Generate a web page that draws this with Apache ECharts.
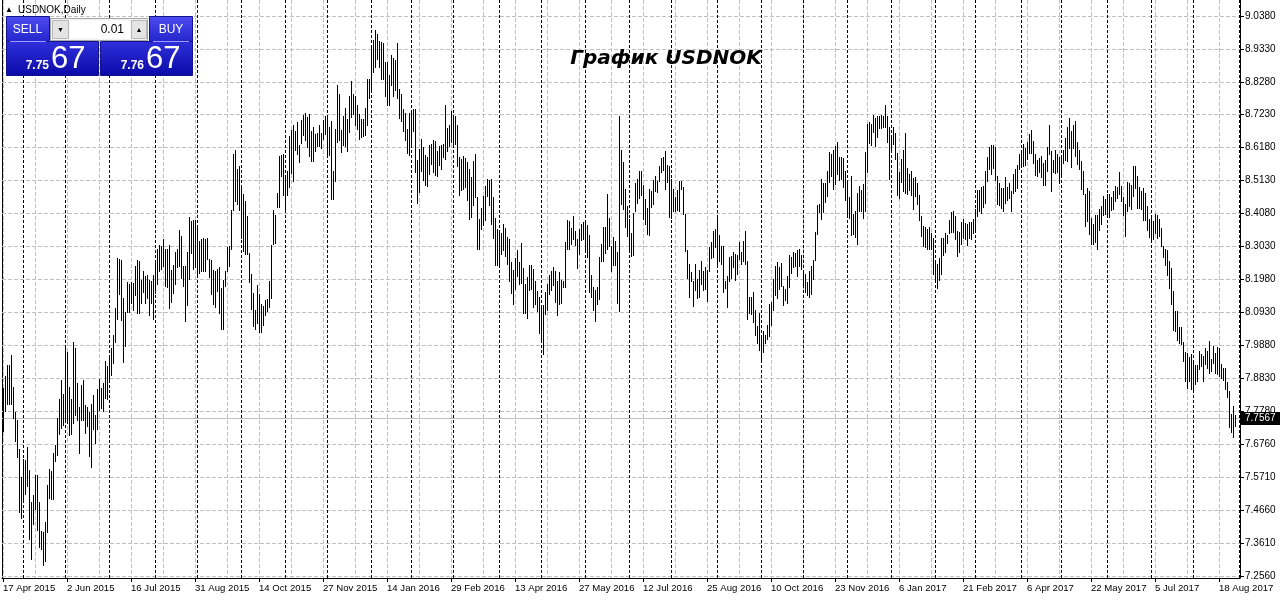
<!DOCTYPE html>
<html><head><meta charset="utf-8">
<script src="https://cdn.jsdelivr.net/npm/echarts@6/dist/echarts.min.js"></script>
<style>html,body{margin:0;padding:0;background:#fff;overflow:hidden}#c{width:1280px;height:600px}</style>
</head><body><div id="c"></div>
<script>
// ---- data: daily high / low of USDNOK ----
const highs = [
7.855,7.894,7.926,7.926,7.958,7.859,7.778,7.754,7.661,7.570,
7.629,7.624,7.668,7.592,7.491,7.513,7.578,7.576,7.491,7.398,
7.396,7.428,7.547,7.597,7.589,7.648,7.674,7.760,7.818,7.880,
7.834,7.986,7.968,7.859,7.818,8.002,7.981,7.871,7.793,7.864,
7.881,7.801,7.793,7.778,7.802,7.833,7.767,7.852,7.884,7.854,
7.871,7.940,7.924,7.952,7.981,8.023,8.109,8.267,8.265,8.260,
8.142,8.095,8.191,8.186,8.193,8.188,8.244,8.260,8.258,8.199,
8.228,8.212,8.214,8.199,8.196,8.214,8.260,8.297,8.308,8.305,
8.329,8.295,8.297,8.308,8.231,8.246,8.286,8.295,8.357,8.339,
8.244,8.242,8.286,8.399,8.387,8.390,8.390,8.373,8.323,8.327,
8.331,8.329,8.332,8.265,8.260,8.231,8.225,8.233,8.239,8.172,
8.198,8.225,8.302,8.305,
8.420,8.600,8.610,8.550,8.560,8.500,8.470,8.450,8.400,
8.285,8.218,8.155,8.102,8.181,8.152,8.123,8.114,8.134,8.137,
8.194,8.308,8.420,8.404,8.476,8.591,8.595,8.598,8.526,8.544,
8.656,8.676,8.690,8.671,8.701,8.626,8.708,8.722,8.730,8.717,
8.727,8.671,8.685,8.663,8.666,8.692,8.667,8.706,8.720,8.717,
8.685,8.704,8.544,8.677,8.819,8.789,8.674,8.720,8.745,8.711,
8.785,8.830,8.791,8.783,8.754,8.727,8.709,8.709,8.745,8.836,
8.836,8.947,8.963,8.992,8.982,8.960,8.955,8.953,8.891,8.891,
8.851,8.915,8.904,8.897,8.953,8.807,8.791,8.743,8.730,8.679,
8.730,8.735,8.743,8.741,8.579,8.614,8.648,8.621,8.595,8.589,
8.629,8.632,8.642,8.639,8.607,8.624,8.626,8.632,8.756,8.682,
8.692,8.735,8.720,8.720,8.690,8.589,8.584,8.592,8.586,8.573,
8.552,8.526,8.576,8.600,8.462,8.391,8.427,8.465,8.497,8.518,
8.515,8.518,8.462,8.395,8.359,
8.355,8.346,8.376,8.363,8.336,8.328,8.254,8.230,8.268,8.293,
8.254,8.316,8.236,8.185,8.206,8.247,8.247,8.233,8.194,8.164,
8.143,8.119,8.119,8.159,8.185,8.215,8.228,8.238,8.225,8.194,
8.222,8.198,8.194,8.318,8.389,8.387,8.363,8.403,8.355,8.328,
8.360,8.376,8.384,8.381,8.374,8.342,8.215,8.175,8.166,8.175,
8.272,8.312,8.365,8.365,8.471,8.395,8.307,8.334,8.323,8.286,
8.721,8.611,8.572,8.487,8.434,8.392,8.346,8.410,8.508,8.519,
8.546,8.546,8.501,8.455,8.427,8.487,8.482,8.516,8.530,8.512,
8.562,8.586,8.588,8.607,8.565,8.562,8.519,8.487,8.463,8.484,
8.514,8.514,8.493,8.408,8.293,8.249,8.222,8.196,8.249,8.201,
8.230,8.257,8.228,8.238,8.230,8.302,8.318,8.353,8.360,8.397,
8.342,8.307,8.307,8.194,8.212,8.272,8.275,8.286,8.281,8.278,
8.318,8.286,8.323,8.355,8.259,
8.143,8.143,8.159,8.101,8.053,8.093,8.013,8.037,8.023,8.055,
8.122,8.127,8.201,8.242,8.254,8.239,8.252,8.178,8.170,8.212,
8.276,8.270,8.286,8.284,8.292,8.295,8.278,8.223,8.218,8.191,
8.225,8.244,8.263,8.350,8.437,8.440,8.520,8.507,8.507,8.546,
8.606,8.599,8.610,8.625,8.636,8.590,8.588,8.585,8.546,8.517,
8.461,8.530,8.408,8.419,8.475,8.498,8.485,8.503,8.604,8.694,
8.702,8.694,8.723,8.712,8.719,8.719,8.723,8.719,8.755,8.719,
8.684,8.659,8.684,8.666,8.602,8.543,8.583,8.610,8.666,8.553,
8.535,8.546,8.522,8.525,8.507,8.467,8.401,8.369,8.366,8.360,
8.366,8.348,8.331,8.263,8.249,8.267,8.331,8.331,8.348,8.342,
8.390,8.414,8.416,8.403,8.355,8.352,8.384,8.392,8.380,8.376,
8.382,8.382,8.392,8.424,8.485,8.485,8.493,8.498,8.546,8.588,
8.620,8.628,8.628,8.620,8.530,
8.508,8.490,8.492,8.526,8.494,8.508,8.481,8.534,8.550,8.564,
8.600,8.603,8.630,8.617,8.638,8.664,8.674,8.640,8.600,8.579,
8.587,8.593,8.571,8.579,8.621,8.691,8.608,8.579,8.611,8.600,
8.589,8.597,8.611,8.651,8.685,8.715,8.672,8.691,8.704,8.638,
8.611,8.575,8.545,8.473,8.492,8.481,8.394,8.375,8.405,8.405,
8.423,8.434,8.466,8.455,8.471,8.473,8.462,8.481,8.497,8.494,
8.540,8.497,8.462,8.441,8.511,8.508,8.500,8.561,8.561,8.529,
8.494,8.481,8.490,8.476,8.434,8.391,8.394,8.386,8.407,8.405,
8.391,8.362,8.306,8.296,8.292,8.259,8.237,8.163,8.100,8.098,
8.047,8.047,8.002,7.970,7.967,7.953,7.962,7.943,7.928,7.928,
7.972,7.962,7.957,7.983,7.972,8.004,7.946,7.988,7.967,7.985,
7.983,7.930,7.919,7.917,7.872,7.845,7.771,7.797,7.769
];
const lows = [
7.719,7.780,7.804,7.802,7.802,7.758,7.684,7.634,7.460,7.441,
7.491,7.518,7.542,7.375,7.311,7.422,7.470,7.401,7.348,7.343,
7.290,7.304,7.396,7.504,7.502,7.502,7.622,7.640,7.707,7.727,
7.735,7.756,7.743,7.706,7.707,7.743,7.767,7.752,7.647,7.754,
7.752,7.712,7.733,7.637,7.602,7.725,7.679,7.725,7.785,7.790,
7.780,7.822,7.820,7.873,7.896,7.933,8.002,8.074,8.152,8.072,
7.936,7.989,8.095,8.095,8.125,8.104,8.151,8.093,8.093,8.125,
8.161,8.125,8.140,8.085,8.125,8.074,8.156,8.186,8.228,8.233,
8.242,8.180,8.175,8.108,8.127,8.157,8.186,8.239,8.244,8.204,
8.178,8.069,8.117,8.202,8.284,8.233,8.239,8.214,8.220,8.228,
8.228,8.228,8.265,8.207,8.154,8.122,8.111,8.164,8.093,8.042,
8.042,8.180,8.225,8.244,
8.295,8.420,8.450,8.440,8.420,8.330,8.290,8.280,8.280,
8.190,8.105,8.052,8.041,8.061,8.033,8.033,8.056,8.086,8.099,
8.112,8.141,8.314,8.317,8.430,8.430,8.529,8.467,8.425,8.467,
8.494,8.538,8.513,8.611,8.600,8.573,8.635,8.658,8.645,8.621,
8.592,8.575,8.575,8.607,8.624,8.624,8.618,8.648,8.664,8.597,
8.595,8.457,8.457,8.513,8.637,8.642,8.605,8.626,8.624,8.607,
8.669,8.717,8.727,8.692,8.679,8.648,8.653,8.656,8.658,8.692,
8.777,8.807,8.860,8.876,8.900,8.876,8.836,8.838,8.785,8.754,
8.756,8.817,8.785,8.801,8.777,8.713,8.703,8.671,8.645,8.603,
8.595,8.621,8.671,8.540,8.444,8.478,8.544,8.515,8.499,8.496,
8.536,8.568,8.542,8.533,8.529,8.563,8.552,8.589,8.584,8.607,
8.624,8.637,8.632,8.632,8.561,8.467,8.483,8.488,8.494,8.452,
8.393,8.399,8.436,8.462,8.298,8.298,8.359,8.372,8.388,8.465,
8.436,8.377,8.330,8.247,8.247,
8.244,8.281,8.293,8.275,8.249,8.196,8.156,8.122,8.169,8.212,
8.185,8.187,8.092,8.092,8.076,8.166,8.168,8.111,8.122,8.098,
8.028,8.003,7.963,8.090,8.103,8.153,8.166,8.183,8.127,8.088,
8.122,8.124,8.175,8.175,8.297,8.297,8.312,8.328,8.310,8.236,
8.281,8.325,8.328,8.286,8.272,8.159,8.143,8.103,8.069,8.122,
8.137,8.257,8.259,8.283,8.297,8.307,8.226,8.247,8.247,8.124,
8.098,8.440,8.424,8.368,8.339,8.297,8.275,8.278,8.416,8.442,
8.459,8.469,8.392,8.376,8.344,8.342,8.431,8.440,8.480,8.477,
8.512,8.540,8.548,8.487,8.509,8.397,8.395,8.418,8.418,8.420,
8.416,8.487,8.408,8.291,8.204,8.145,8.194,8.116,8.166,8.141,
8.143,8.185,8.166,8.169,8.132,8.228,8.268,8.270,8.304,8.244,
8.259,8.249,8.159,8.173,8.111,8.196,8.204,8.238,8.198,8.217,
8.265,8.249,8.259,8.249,8.074,
8.093,8.090,8.064,8.023,7.998,7.974,7.942,7.968,7.998,8.009,
8.021,8.055,8.101,8.149,8.140,8.168,8.180,8.119,8.133,8.125,
8.175,8.221,8.239,8.244,8.212,8.244,8.233,8.175,8.159,8.149,
8.143,8.154,8.201,8.263,8.345,8.414,8.392,8.414,8.445,8.466,
8.511,8.530,8.488,8.504,8.535,8.517,8.519,8.493,8.454,8.408,
8.394,8.341,8.345,8.334,8.313,8.419,8.416,8.394,8.419,8.543,
8.634,8.626,8.668,8.623,8.652,8.681,8.681,8.684,8.684,8.636,
8.519,8.615,8.631,8.583,8.469,8.458,8.509,8.482,8.475,8.472,
8.485,8.469,8.424,8.464,8.440,8.390,8.337,8.307,8.302,8.295,
8.295,8.295,8.217,8.193,8.172,8.199,8.217,8.278,8.286,8.316,
8.348,8.352,8.350,8.329,8.274,8.286,8.313,8.331,8.327,8.310,
8.331,8.327,8.348,8.355,8.401,8.416,8.411,8.429,8.443,8.514,
8.551,8.535,8.553,8.517,8.440,
8.437,8.426,8.418,8.444,8.452,8.458,8.418,8.476,8.481,8.490,
8.550,8.566,8.561,8.564,8.582,8.603,8.603,8.571,8.532,8.529,
8.540,8.526,8.500,8.500,8.545,8.600,8.481,8.540,8.537,8.540,
8.508,8.529,8.571,8.579,8.575,8.619,8.558,8.619,8.593,8.568,
8.550,8.487,8.471,8.370,8.386,8.344,8.314,8.314,8.320,8.296,
8.356,8.375,8.405,8.407,8.399,8.397,8.420,8.423,8.450,8.458,
8.473,8.450,8.405,8.338,8.416,8.434,8.423,8.465,8.490,8.426,
8.426,8.423,8.388,8.388,8.356,8.335,8.328,8.328,8.346,8.333,
8.338,8.306,8.271,8.246,8.214,8.174,8.121,8.038,8.036,8.006,
7.999,7.994,7.939,7.877,7.854,7.875,7.851,7.851,7.866,7.875,
7.914,7.925,7.877,7.930,7.919,7.903,7.907,7.935,7.903,7.898,
7.893,7.887,7.879,7.851,7.826,7.729,7.713,7.699,7.734
];
const yTicks = [9.038,8.933,8.828,8.723,8.618,8.513,8.408,8.303,8.198,8.093,7.988,7.883,7.778,7.676,7.571,7.466,7.361,7.256];
const bidPrice = 7.7567;
const symbolText = 'USDNOK,Daily';
const titleText = 'График USDNOK';
const sellQuote = ['7.75', '67'];
const buyQuote = ['7.76', '67'];
const lotText = '0.01';
const monthNames = ['Jan','Feb','Mar','Apr','May','Jun','Jul','Aug','Sep','Oct','Nov','Dec'];

// ---- trading-day categories (weekdays, no Christmas / New Year) ----
const nCategories = 619;
const categories = [], catMonth = [];
(function(){
  const d = new Date(Date.UTC(2015, 3, 17));
  while (categories.length < nCategories) {
    const wd = d.getUTCDay(), m = d.getUTCMonth(), day = d.getUTCDate();
    const hol = (m === 11 && day === 25) || (m === 0 && day === 1);
    if (wd !== 0 && wd !== 6 && !hol) {
      categories.push(day + ' ' + monthNames[m] + ' ' + d.getUTCFullYear());
      catMonth.push(m);
    }
    d.setUTCDate(day + 1);
  }
})();
const separators = [];
for (let i = 1; i < nCategories; i++) if (catMonth[i] !== catMonth[i-1]) separators.push(i);
const gridIdx = [];
for (let i = 0; i < nCategories; i += 16) gridIdx.push(i);

const step = 0.105;
const yMax = yTicks[0] + step * 16 / 33;
const yMin = yTicks[yTicks.length - 1] - step * 2 / 33;
const FONT = '"Liberation Sans", Arial, sans-serif';

const chart = echarts.init(document.getElementById('c'), null, {renderer: 'canvas'});

function px(v) { return Math.floor(v + 0.01); }

function vLineRenderer(color, dash) {
  return function (params, api) {
    const cs = params.coordSys;
    const x = px(api.coord([api.value(0), yMin])[0]) + 0.5;
    return {type: 'line', silent: true,
      shape: {x1: x, y1: cs.y, x2: x, y2: cs.y + cs.height},
      style: {stroke: color, lineWidth: 1, lineDash: dash}};
  };
}

const option = {
  animation: false,
  backgroundColor: '#fff',
  grid: {left: 2, right: 40, top: 0, bottom: 22},
  xAxis: {
    type: 'category', data: categories, boundaryGap: true,
    axisLine: {show: true, lineStyle: {color: '#000', width: 1}},
    axisTick: {show: true, alignWithLabel: true, length: 4, interval: (i) => i % 32 === 0, lineStyle: {color: '#000'}},
    axisLabel: {show: true, interval: (i) => i % 32 === 0, align: 'left', margin: 5, color: '#000', fontSize: 9.6, fontFamily: FONT},
    splitLine: {show: false}
  },
  yAxis: [
    {type: 'value', position: 'right', min: yMin, max: yMax, scale: true,
     axisLine: {show: true, lineStyle: {color: '#000'}}, axisTick: {show: false}, axisLabel: {show: false}, splitLine: {show: false}},
    {type: 'value', position: 'left', min: yMin, max: yMax, scale: true,
     axisLine: {show: true, lineStyle: {color: '#000'}}, axisTick: {show: false}, axisLabel: {show: false}, splitLine: {show: false}}
  ],
  series: [
    {type: 'custom', name: 'vgrid', z: 1, silent: true, data: gridIdx.map(i => [i, yMin]),
     encode: {x: 0, y: 1}, renderItem: vLineRenderer('#c0c0c0', [4, 2])},
    {type: 'custom', name: 'hgrid', z: 1, silent: true, data: yTicks.map(v => [0, v]),
     encode: {x: 0, y: 1},
     renderItem: function (params, api) {
       const cs = params.coordSys;
       const v = api.value(1);
       const y = px(api.coord([0, v])[1]) + 0.5;
       const r = cs.x + cs.width;
       return {type: 'group', children: [
         {type: 'line', shape: {x1: cs.x, y1: y, x2: r, y2: y}, style: {stroke: '#c0c0c0', lineWidth: 1, lineDash: [4, 2]}},
         {type: 'line', shape: {x1: r, y1: y, x2: r + 4, y2: y}, style: {stroke: '#000', lineWidth: 1}},
         {type: 'text', style: {text: v.toFixed(4), x: r + 5, y: y, align: 'left', verticalAlign: 'middle', fill: '#000', font: '10px ' + FONT}}
       ]};
     }},
    {type: 'custom', name: 'separators', z: 2, silent: true, data: separators.map(i => [i, yMin]),
     encode: {x: 0, y: 1}, renderItem: vLineRenderer('#000', [3, 2])},
    {type: 'custom', name: 'bidline', z: 2, silent: true, data: [[0, bidPrice]],
     encode: {x: 0, y: 1},
     renderItem: function (params, api) {
       const cs = params.coordSys;
       const y = px(api.coord([0, api.value(1)])[1]) + 0.5;
       return {type: 'line', shape: {x1: cs.x, y1: y, x2: cs.x + cs.width, y2: y}, style: {stroke: '#c0c0c0', lineWidth: 1}};
     }},
    {type: 'custom', name: 'USDNOK', z: 3, silent: true,
     data: highs.map((h, i) => [i, h, lows[i]]),
     encode: {x: 0, y: [1, 2]},
     renderItem: function (params, api) {
       const i = api.value(0);
       const top = api.coord([i, api.value(1)]);
       const bot = api.coord([i, api.value(2)]);
       const y1 = Math.round(top[1]), y2 = Math.round(bot[1]);
       return {type: 'rect', shape: {x: px(top[0]), y: y1, width: 1, height: Math.max(1, y2 - y1 + 1)}, style: {fill: '#000'}};
     }},
    {type: 'custom', name: 'bidlabel', z: 5, silent: true, data: [[0, bidPrice]],
     encode: {x: 0, y: 1},
     renderItem: function (params, api) {
       const cs = params.coordSys;
       const v = api.value(1);
       const y = px(api.coord([0, v])[1]) + 0.5;
       const r = cs.x + cs.width;
       return {type: 'group', children: [
         {type: 'rect', shape: {x: r + 1, y: y - 6.5, width: 40, height: 13}, style: {fill: '#000'}},
         {type: 'text', style: {text: v.toFixed(4), x: r + 5, y: y, align: 'left', verticalAlign: 'middle', fill: '#fff', font: '10px ' + FONT}}
       ]};
     }}
  ],
  graphic: (function () {
    const g = (c1, c2) => new echarts.graphic.LinearGradient(0, 0, 0, 1, [{offset: 0, color: c1}, {offset: 1, color: c2}]);
    const t = (text, x, y, font, fill, align) => ({type: 'text', silent: true, z: 20,
      style: {text: text, x: x, y: y, font: font, fill: fill, align: align || 'left', verticalAlign: 'middle'}});
    const r = (x, y, w, h, fill, stroke) => ({type: 'rect', silent: true, z: 19,
      shape: {x: x, y: y, width: w, height: h}, style: {fill: fill, stroke: stroke || null, lineWidth: 1}});
    const l = (x1, y1, x2, y2, c) => ({type: 'line', silent: true, z: 20, shape: {x1: x1, y1: y1, x2: x2, y2: y2}, style: {stroke: c, lineWidth: 1}});
    return [
      t('▲', 5, 10, '8px ' + FONT, '#000'),
      t(symbolText, 18, 10, '10px ' + FONT, '#000'),
      // sell side
      r(6.5, 16.5, 43, 25, g('#4c4cf0', '#2424cc'), '#12128a'),
      r(6.5, 41.5, 92, 34, g('#3030dc', '#0a0aa8'), '#12128a'),
      l(10, 41.5, 46, 41.5, '#9c9cff'),
      t('SELL', 27.5, 30, '12px ' + FONT, '#fff', 'center'),
      t(sellQuote[0], 49, 66, 'bold 12px ' + FONT, '#fff', 'right'),
      t(sellQuote[1], 51, 59, '31px ' + FONT, '#fff'),
      // buy side
      r(149.5, 16.5, 43, 25, g('#4c4cf0', '#2424cc'), '#12128a'),
      r(100.5, 41.5, 92, 34, g('#3030dc', '#0a0aa8'), '#12128a'),
      l(153, 41.5, 189, 41.5, '#9c9cff'),
      t('BUY', 171, 30, '12px ' + FONT, '#fff', 'center'),
      t(buyQuote[0], 144, 66, 'bold 12px ' + FONT, '#fff', 'right'),
      t(buyQuote[1], 146, 59, '31px ' + FONT, '#fff'),
      // lot spinner
      r(50.5, 18.5, 97, 22, '#f2f2f2', '#a8a8a8'),
      r(52.5, 20.5, 16, 18, '#e4e4e4', '#b8b8b8'),
      r(69.5, 20.5, 61, 18, '#ffffff', null),
      r(131.5, 20.5, 15, 18, '#e4e4e4', '#b8b8b8'),
      t('▼', 60.5, 30, '7px ' + FONT, '#000', 'center'),
      t('▲', 139, 30, '7px ' + FONT, '#000', 'center'),
      t(lotText, 124, 30, '12px ' + FONT, '#000', 'right'),
      // title
      t(titleText, 666, 59, 'italic bold 20px "DejaVu Sans", sans-serif', '#000', 'center')
    ];
  })()
};
chart.setOption(option);
</script>
</body></html>
